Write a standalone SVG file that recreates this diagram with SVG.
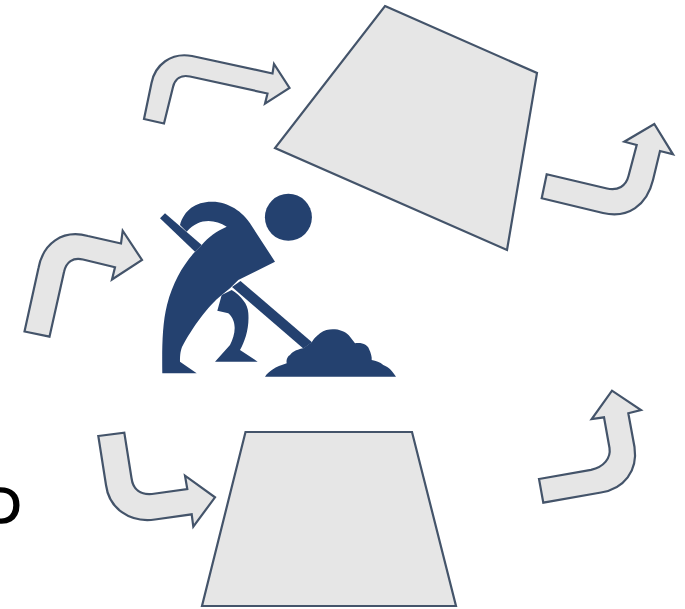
<svg xmlns="http://www.w3.org/2000/svg" width="685" height="609" viewBox="0 0 685 609">
<style>
.s{fill:#e6e6e6;stroke:#44546a;stroke-width:2.2;stroke-linejoin:miter}
.w{fill:#24416f}
.t{font-family:"Liberation Sans",Arial,sans-serif;font-size:50px;fill:#000;stroke:#000;stroke-width:1.6}
</style>
<rect width="685" height="609" fill="#fff"/>
<text class="t" x="-15" y="523">D</text>
<g id="connectors">
<path class="s" d="M144 119L151.500 83C155 65 171 52 192 56L272.500 73.500L274 64L289.500 88L265 103.700L267.500 93.500L190 76.500C181 74.500 175 79 173 87L164 123.500Z"/>
<path class="s" d="M24.500 331.500L38.500 268C43 244 62 229 88 236L121 243.500L122.700 230.700L142 260L112 279.500L115 267.300L83 259.500C73 257 66 262 64 272L49.500 336.700Z"/>
<path class="s" d="M98.300 436L124.300 432.700L131.500 478C133 490 141 495 152 494L187.300 489L185 475.700L215 497.300L193.300 526.700L191.700 514.300L155 519.500C129 523 109 508 106 485Z"/>
<path class="s" d="M546.700 174.300L607 188.500C618 191 626 186 628.500 176L636.700 145L624.300 141.700L654.300 124L673 154.300L660 151L653 180C647 205 628 219 603 213L541.700 198.300Z"/>
<path class="s" d="M539 479L591 469.800C604 467 611 458 609.500 448L604 417.300L591.700 419L612 390.700L641 410L628.300 413.300L634.500 447C638 471 624 489 601 492.500L543.300 502.700Z"/>
</g>
<g id="node-top"><polygon class="s" points="385,6 537,73 507,250 275,148"/></g>
<g id="node-bottom"><polygon class="s" points="245.500,432 412,432 456,606 202,606"/></g>
<g id="worker">
<circle class="w" cx="288.400" cy="217.300" r="23.500"/>
<path class="w" d="M160 218.300L165 213.300L201.700 245L195 251.700Z"/>
<path class="w" d="M180 225C184 210 196 201.500 212 201.700C228 201.500 243 212 250 223.300L275 261.700L238.300 280L230 288.300L221.700 295C208 306 192 328 182 347C180 352 180 358 180 361.700L196.700 373.300H162.300C162 350 162 325 167 305C173 282 183 265 195 251.700L201.700 245C208 237 217 231 226.700 226.700C214 219 199 218 186.700 231.700Z"/>
<path class="w" d="M240.500 281L312 342.300L303.300 348.500L232 287Z"/>
<path class="w" d="M221.700 295L231.700 290C241 296 248 304 248.300 313C249.500 328 245 341 240 350L257.700 361.700H215L230 345C235 335 238 322 228.300 313.300L217.300 310.700Z"/>
<path class="w" d="M265 376.700C269 371 275 367 286.700 363.300C286 359 288 356 290 355C293 351 299 349 303.300 348.300L311.700 342.300C315 337 318 335 320 333.300C325 329.500 330 329 335 329.300C342 330 347 333 350 336.700L355 343.300C362 342 368 345 369 349C371 353 372 357 371.700 360C376 361 380 362 383.300 365C389 367 393 372 396 376.700Z"/>
</g>
</svg>
